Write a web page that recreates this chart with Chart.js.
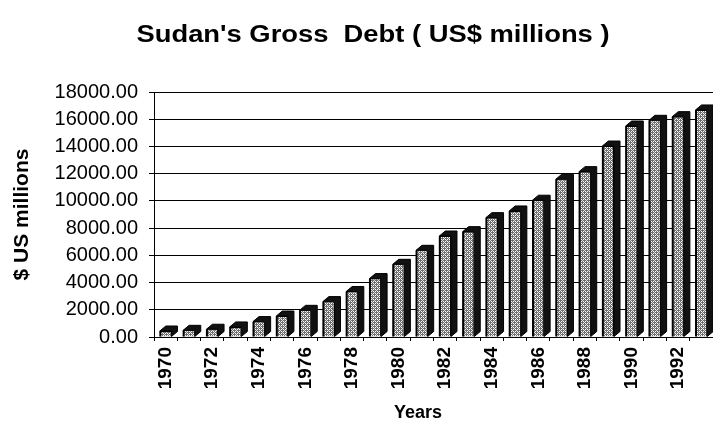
<!DOCTYPE html>
<html lang="en">
<head>
<meta charset="UTF-8">
<title>Sudan's Gross Debt</title>
<style>
  html, body { margin: 0; padding: 0; background: #fff; }
  canvas { display: block; }
</style>
</head>
<body>
<canvas id="debtChart" width="713" height="423"></canvas>

<script src="https://cdn.jsdelivr.net/npm/chart.js"></script>
<script>
// data
const years = ['1970', '1971', '1972', '1973', '1974', '1975', '1976', '1977',
               '1978', '1979', '1980', '1981', '1982', '1983', '1984', '1985',
               '1986', '1987', '1988', '1989', '1990', '1991', '1992', '1993'];
const grossDebt = [440, 490, 570, 740, 1130, 1540, 1960, 2600,
                   3340, 4290, 5340, 6370, 7420, 7740, 8770, 9260,
                   10050, 11590, 12150, 14030, 15500, 15920, 16190, 16680];
const yTicks = [0, 2000, 4000, 6000, 8000, 10000, 12000, 14000, 16000, 18000];

const chartTitle = "Sudan's Gross  Debt ( US$ millions )";
const yTitle = '$ US millions';
const xTitle = 'Years';

const FONT = "'Liberation Sans', Arial, sans-serif";

// dotted grey fill like the old excel pattern
function makeHatch() {
    const c = document.createElement('canvas');
    c.width = 4;
    c.height = 4;
    const g = c.getContext('2d');
    g.fillStyle = '#6e6e6e';
    g.fillRect(0, 0, 4, 4);
    g.fillStyle = '#ffffff';
    g.fillRect(1, 1, 1, 1);
    g.fillRect(3, 3, 1, 1);
    g.fillRect(3, 1, 1, 1);
    g.fillRect(1, 3, 1, 1);
    g.fillStyle = '#d8d8d8';
    g.fillRect(0, 2, 1, 1);
    g.fillRect(2, 0, 1, 1);
    return c;
}

const ctx = document.getElementById('debtChart').getContext('2d');
const hatch = ctx.createPattern(makeHatch(), 'repeat');

// fake 3d: top + side face for every bar
const depthX = 6, depthY = 5;
const bar3d = {
    id: 'bar3d',
    afterDatasetsDraw(chart) {
        const c = chart.ctx;
        const meta = chart.getDatasetMeta(0);
        c.save();
        c.fillStyle = '#111';
        c.strokeStyle = '#000';
        c.lineWidth = 1;
        meta.data.forEach(bar => {
            const l = bar.x - bar.width / 2;
            const r = bar.x + bar.width / 2;
            c.beginPath();
            c.moveTo(l, bar.y);
            c.lineTo(l + depthX, bar.y - depthY);
            c.lineTo(r + depthX, bar.y - depthY);
            c.lineTo(r + depthX, bar.base - depthY);
            c.lineTo(r, bar.base);
            c.lineTo(r, bar.y);
            c.closePath();
            c.fill();
            c.stroke();
            // heavier left edge as in the scan
            c.beginPath();
            c.moveTo(l + 0.5, bar.base);
            c.lineTo(l + 0.5, bar.y);
            c.lineWidth = 2;
            c.stroke();
            c.lineWidth = 1;
        });
        c.restore();
    }
};

// chart title and x title sit off-centre in the scan, so place them by hand
const extraText = {
    id: 'extraText',
    afterDraw(chart) {
        const c = chart.ctx;
        c.save();
        c.fillStyle = '#000';
        c.textAlign = 'center';
        c.textBaseline = 'middle';
        c.font = 'bold 23px ' + FONT;
        const w = c.measureText(chartTitle).width;
        c.translate(373, 36);
        c.scale(473 / w, 1);
        c.fillText(chartTitle, 0, 0);
        c.restore();

        c.save();
        c.fillStyle = '#000';
        c.textAlign = 'center';
        c.textBaseline = 'middle';
        c.font = 'bold 18px ' + FONT;
        c.fillText(xTitle, 418, 413);
        c.restore();
    }
};

const debtChart = new Chart(ctx, {
    type: 'bar',
    data: {
        labels: years,
        datasets: [{
            label: 'Gross debt',
            data: grossDebt,
            backgroundColor: hatch,
            borderColor: '#000',
            borderWidth: 1,
            barPercentage: 1,
            categoryPercentage: 0.5
        }]
    },
    options: {
        responsive: false,
        animation: false,
        layout: { padding: { top: 92, right: 0, bottom: 0, left: 0 } },
        plugins: {
            legend: { display: false },
            title: { display: false },
            tooltip: { enabled: false }
        },
        scales: {
            x: {
                grid: {
                    offset: true,
                    drawOnChartArea: false,
                    color: '#000',
                    tickLength: 4
                },
                border: { color: '#000', width: 1 },
                ticks: {
                    autoSkip: false,
                    minRotation: 90,
                    maxRotation: 90,
                    padding: 6,
                    color: '#000',
                    font: { family: FONT, size: 19, weight: 'bold' },
                    callback: (val, i) => (i % 2 === 0 ? years[i] : '')
                },
                afterFit(scale) {
                    scale.height = 86;
                    scale.paddingLeft = 0;
                    scale.paddingRight = 0;
                }
            },
            y: {
                min: 0,
                max: yTicks[yTicks.length - 1],
                afterBuildTicks(scale) {
                    scale.ticks = yTicks.map(v => ({ value: v }));
                },
                grid: { color: '#000', tickLength: 5 },
                border: { color: '#000', width: 1 },
                ticks: {
                    padding: 11,
                    color: '#000',
                    font: { family: FONT, size: 20 },
                    callback: v => Number(v).toFixed(2)
                },
                title: {
                    display: true,
                    text: yTitle,
                    color: '#000',
                    padding: { top: 10, bottom: 0 },
                    font: { family: FONT, size: 21, weight: 'bold' }
                },
                afterFit(scale) {
                    scale.width = 154;
                }
            }
        }
    },
    plugins: [bar3d, extraText]
});
</script>
</body>
</html>
